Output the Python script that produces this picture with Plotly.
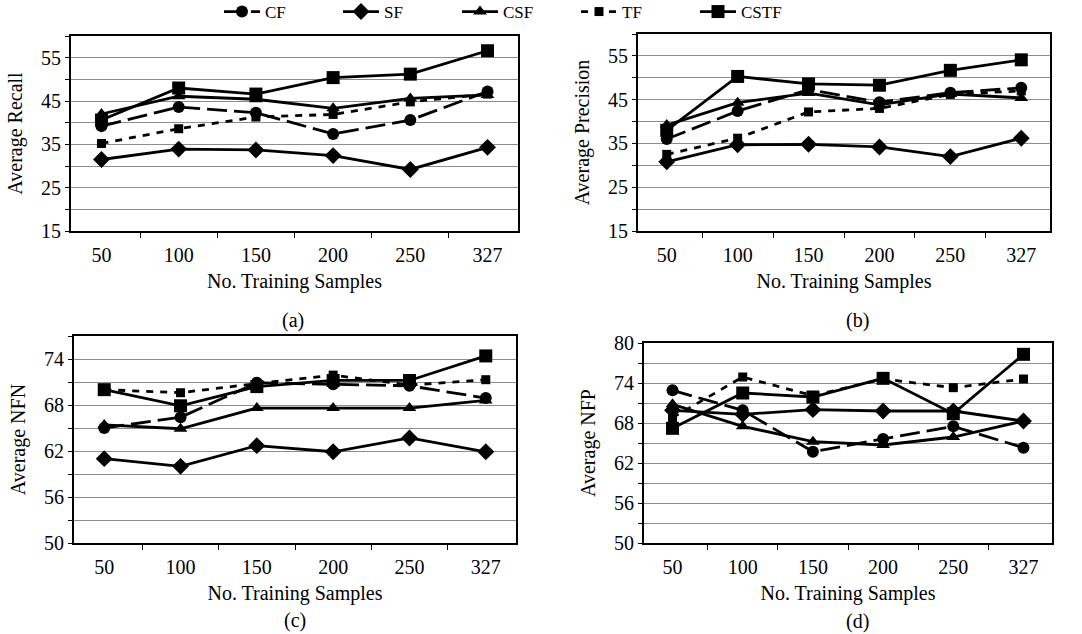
import plotly.graph_objects as go

samples = ["50", "100", "150", "200", "250", "327"]
series_names = ["CF", "SF", "CSF", "TF", "CSTF"]

recall_cf = [39.2, 43.6, 42.3, 37.4, 40.6, 47.2]
recall_sf = [31.5, 33.9, 33.7, 32.4, 29.2, 34.3]
recall_csf = [42.0, 46.1, 45.4, 43.3, 45.6, 46.4]
recall_tf = [35.2, 38.6, 41.3, 41.9, 44.8, 46.6]
recall_cstf = [40.6, 48.0, 46.6, 50.4, 51.2, 56.6]

prec_cf = [36.0, 42.4, 47.3, 44.4, 46.6, 47.7]
prec_sf = [30.8, 34.7, 34.8, 34.2, 32.0, 36.2]
prec_csf = [39.2, 44.3, 46.5, 43.8, 46.3, 45.4]
prec_tf = [32.5, 36.2, 42.2, 43.0, 46.2, 47.0]
prec_cstf = [38.0, 50.3, 48.6, 48.3, 51.7, 54.1]

nfn_cf = [65.0, 66.4, 70.9, 70.7, 70.5, 68.9]
nfn_sf = [61.0, 60.0, 62.7, 61.9, 63.7, 61.9]
nfn_csf = [65.4, 64.9, 67.6, 67.6, 67.6, 68.6]
nfn_tf = [70.0, 69.6, 70.8, 71.9, 70.6, 71.3]
nfn_cstf = [70.0, 67.9, 70.4, 71.2, 71.2, 74.4]

nfp_cf = [72.9, 69.9, 63.7, 65.6, 67.5, 64.3]
nfp_sf = [69.9, 69.3, 70.0, 69.8, 69.8, 68.3]
nfp_csf = [70.8, 67.5, 65.2, 64.7, 65.9, 68.3]
nfp_tf = [68.8, 74.9, 72.1, 74.6, 73.3, 74.6]
nfp_cstf = [67.2, 72.5, 71.9, 74.7, 69.4, 78.3]

panels = [
    ([recall_cf, recall_sf, recall_csf, recall_tf, recall_cstf], "Average Recall", [15, 60], 15, 10, 5, "(a)"),
    ([prec_cf, prec_sf, prec_csf, prec_tf, prec_cstf], "Average Precision", [15, 60], 15, 10, 5, "(b)"),
    ([nfn_cf, nfn_sf, nfn_csf, nfn_tf, nfn_cstf], "Average NFN", [50, 77], 50, 6, 3, "(c)"),
    ([nfp_cf, nfp_sf, nfp_csf, nfp_tf, nfp_cstf], "Average NFP", [50, 80], 50, 6, 3, "(d)"),
]

styles = {
    "CF": dict(symbol="circle", size=12, dash="20px,7px"),
    "SF": dict(symbol="diamond", size=13, dash="solid"),
    "CSF": dict(symbol="triangle-up", size=12, dash="solid"),
    "TF": dict(symbol="square", size=9, dash="7px,7px"),
    "CSTF": dict(symbol="square", size=13, dash="solid"),
}

W, H = 1082, 634
# plot-area pixel boxes (left, right, top, bottom)
boxes = [(71, 518, 36, 231), (638, 1050, 34, 231), (74, 516, 336, 543), (644, 1052, 343, 543)]
caption_pos = [(293, 320), (857, 320), (295, 620), (857, 621)]

FONT = "Liberation Serif, Times New Roman, serif"

fig = go.Figure()
layout = {}
for i, (vals, ytitle, yrange, tick0, dtick, mdtick, cap) in enumerate(panels):
    ax = "" if i == 0 else str(i + 1)
    for name, v in zip(series_names, vals):
        st = styles[name]
        fig.add_trace(go.Scatter(
            x=samples, y=v, name=name, mode="lines+markers",
            xaxis="x" + ax, yaxis="y" + ax,
            line=dict(color="black", width=2.8, dash=st["dash"]),
            marker=dict(symbol=st["symbol"], size=st["size"], color="black"),
            showlegend=(i == 0),
        ))
    l, r, t, b = boxes[i]
    layout["xaxis" + ax] = dict(
        domain=[l / W, r / W], anchor="y" + ax, type="category",
        tickson="boundaries", ticks="outside", ticklen=5, tickcolor="black",
        ticklabelstandoff=5,
        showgrid=False, showline=True, linecolor="black", linewidth=2, mirror=True,
        title=dict(text="No. Training Samples", font=dict(size=20), standoff=9),
        tickfont=dict(size=20), automargin=False,
    )
    layout["yaxis" + ax] = dict(
        domain=[1 - b / H, 1 - t / H], anchor="x" + ax, range=yrange,
        tick0=tick0, dtick=dtick, ticks="outside", ticklen=4, tickcolor="black",
        showgrid=True, gridcolor="#8c8c8c", gridwidth=1,
        minor=dict(dtick=mdtick, tick0=tick0, showgrid=True, gridcolor="#8c8c8c",
                   gridwidth=1, ticks="outside", ticklen=4, tickcolor="black"),
        showline=True, linecolor="black", linewidth=2, mirror=True,
        zeroline=False,
        title=dict(text=ytitle, font=dict(size=20), standoff=13),
        tickfont=dict(size=20), automargin=False,
    )
    cx, cy = caption_pos[i]
    fig.add_annotation(x=cx / W, y=1 - cy / H, xref="paper", yref="paper",
                       text=cap, showarrow=False, font=dict(size=20),
                       xanchor="center", yanchor="middle")

fig.update_layout(
    width=W, height=H,
    margin=dict(l=0, r=0, t=0, b=0, autoexpand=False),
    paper_bgcolor="white", plot_bgcolor="white",
    font=dict(family=FONT, color="black", size=20),
    legend=dict(orientation="h", x=219 / W, xanchor="left", y=1 - 12 / H, yanchor="middle",
                font=dict(size=17), entrywidth=68, entrywidthmode="pixels",
                itemwidth=36, bgcolor="rgba(0,0,0,0)", tracegroupgap=0),
    **layout,
)

fig.write_html("out.html", config={"displayModeBar": False},
               post_script="document.body.style.margin='0px';document.body.style.overflow='hidden';")
